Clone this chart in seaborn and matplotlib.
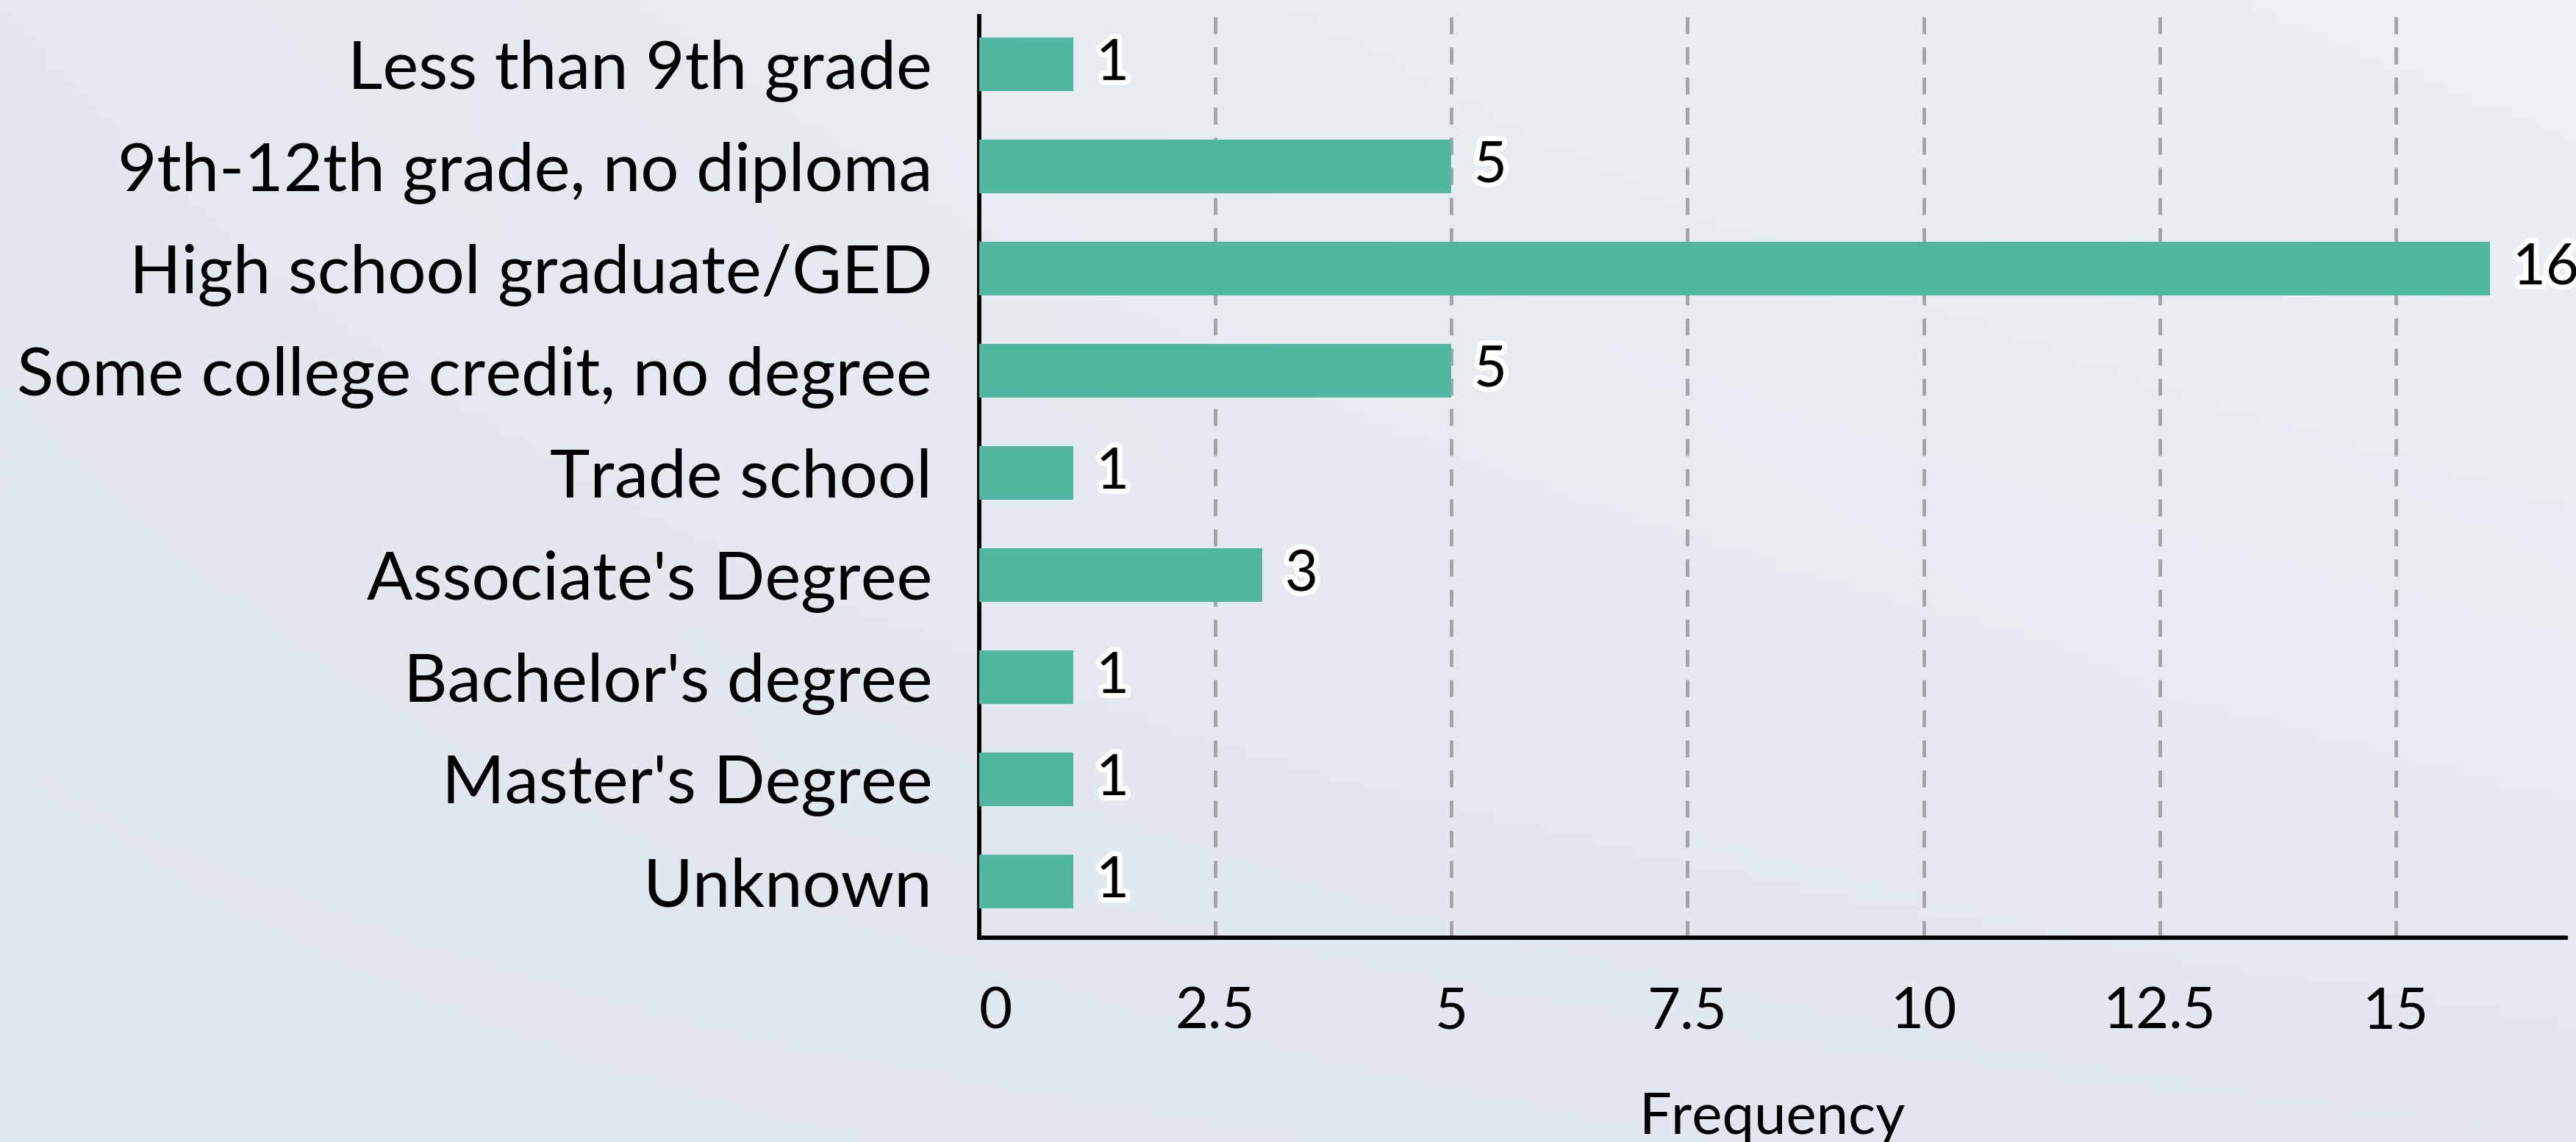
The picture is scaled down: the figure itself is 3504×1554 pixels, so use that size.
import numpy as np
import pandas as pd
import matplotlib
matplotlib.use("Agg")
import matplotlib.pyplot as plt
import matplotlib.patheffects as pe
import seaborn as sns

categories = ["Less than 9th grade", "9th-12th grade, no diploma", "High school graduate/GED",
              "Some college credit, no degree", "Trade school", "Associate's Degree",
              "Bachelor's degree", "Master's Degree", "Unknown"]
frequency = [1, 5, 16, 5, 1, 3, 1, 1, 1]
xticks = [0, 2.5, 5, 7.5, 10, 12.5, 15]
xtick_labels = ["0", "2.5", "5", "7.5", "10", "12.5", "15"]

df = pd.DataFrame({"Education": categories, "Frequency": frequency})

sns.set_theme(style="white")
plt.rcParams["font.family"] = ["Lato", "DejaVu Sans"]

fig = plt.figure(figsize=(3505 / 200, 1554 / 200), dpi=200)

# gradient background
bg = fig.add_axes([0, 0, 1, 1], zorder=-10)
tl = np.array([0xe3, 0xe9, 0xee]) / 255
tr = np.array([0xed, 0xf1, 0xf4]) / 255
bl = np.array([0xe0, 0xe6, 0xee]) / 255
br = np.array([0xe3, 0xe8, 0xf0]) / 255
u = np.linspace(0, 1, 200)[None, :, None]
v = np.linspace(0, 1, 100)[:, None, None]
img = (1 - v) * ((1 - u) * tl + u * tr) + v * ((1 - u) * bl + u * br)
bg.imshow(img, aspect="auto", extent=[0, 1, 0, 1], origin="upper")
bg.axis("off")
fig.patch.set_facecolor("#e6ebf0")

ax = fig.add_axes([1332 / 3505, 1 - 1276 / 1554, (3490 - 1332) / 3505, (1276 - 22) / 1554])
ax.patch.set_alpha(0)

sns.barplot(data=df, y="Education", x="Frequency", orient="h", color="#52b7a1",
            saturation=1, width=0.525, linewidth=0, edgecolor="none", ax=ax, zorder=3)

ax.set_xlim(0, 16.8)
ax.set_ylim(8.55, -0.47)
ax.set_xticks(xticks)
ax.set_xticklabels(xtick_labels)
ax.tick_params(axis="x", length=0, pad=24, labelsize=28, colors="black")
ax.tick_params(axis="y", length=0, pad=23, labelsize=33.2, colors="black")
ax.get_xticklabels()[0].set_ha("left")
ax.set_ylabel("")
ax.set_xlabel("Frequency", fontsize=28, labelpad=26, color="black")

ax.grid(axis="x", color="#a3a6a9", linewidth=1.8, linestyle=(0, (4.6, 3.6)), zorder=0)
ax.set_axisbelow(True)
for g in ax.get_xgridlines()[:1]:
    g.set_visible(False)

for s in ["top", "right"]:
    ax.spines[s].set_visible(False)
ax.spines["left"].set_color("black")
ax.spines["left"].set_linewidth(2.1)
ax.spines["bottom"].set_color("black")
ax.spines["bottom"].set_linewidth(2.1)

for i, val in enumerate(frequency):
    ax.annotate(str(val), xy=(val, i), xytext=(11, 0), textcoords="offset points",
                va="center", ha="left", fontsize=28, color="black",
                path_effects=[pe.withStroke(linewidth=5, foreground="white")], zorder=5)

fig.savefig("out.png", dpi=200, facecolor=fig.get_facecolor())
